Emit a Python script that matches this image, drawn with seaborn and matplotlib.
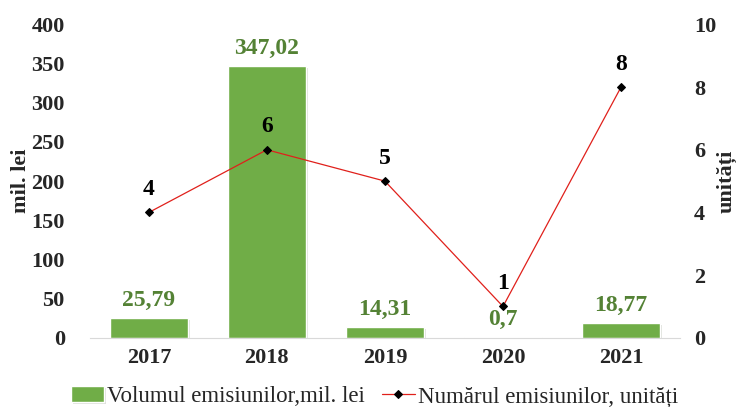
import numpy as np
import pandas as pd
import seaborn as sns
import matplotlib.pyplot as plt
import matplotlib.patheffects as pe

years = ['2017', '2018', '2019', '2020', '2021']
volum = [25.79, 347.02, 14.31, 0.7, 18.77]
numar = [4, 6, 5, 1, 8]
volum_labels = ['25,79', '347,02', '14,31', '0,7', '18,77']

sns.set_style('white')
plt.rcParams['font.family'] = ['Liberation Serif', 'DejaVu Serif']

green = '#70AD47'
df = pd.DataFrame({'an': years, 'volum': volum, 'numar': numar})

fig, ax = plt.subplots(figsize=(7.36, 4.07), dpi=100)
fig.subplots_adjust(left=0.122, right=0.924, top=0.94, bottom=0.17)

sns.barplot(data=df, x='an', y='volum', color=green, width=0.66, saturation=1,
            ax=ax, label='Volumul emisiunilor,mil. lei')
for p in ax.patches:
    p.set_path_effects([pe.SimplePatchShadow(offset=(1.5, -1.5), alpha=0.15), pe.Normal()])
ax.set_ylim(0, 400)
ax.set_yticks(range(0, 401, 50))
ax.set_xlabel('')
ax.set_ylabel('mil. lei', fontsize=16, fontweight='bold', labelpad=0)
for i, (v, t) in enumerate(zip(volum, volum_labels)):
    ax.annotate(t, (i, v), xytext=(0, 5), textcoords='offset points', ha='center',
                va='bottom', color='#548235', fontsize=17, fontweight='bold')

ax2 = ax.twinx()
sns.lineplot(x=np.arange(len(years)), y=df['numar'], ax=ax2, color='#E0201B', lw=0.9,
             marker='D', markersize=4, markerfacecolor='black', markeredgecolor='black',
             label='Numărul emisiunilor, unități', legend=False)
ax2.set_ylim(0, 10)
ax2.set_yticks(range(0, 11, 2))
ax2.set_ylabel('unități', fontsize=16, fontweight='bold', labelpad=0)
for i, n in enumerate(numar):
    ax2.annotate(str(n), (i, n), xytext=(0, 9), textcoords='offset points', ha='center',
                 va='bottom', color='black', fontsize=17, fontweight='bold')

for a in (ax, ax2):
    for s in a.spines.values():
        s.set_visible(False)
    a.tick_params(length=0, labelsize=16)
    for lab in a.get_xticklabels() + a.get_yticklabels():
        lab.set_fontweight('bold')
ax.spines['bottom'].set_visible(True)
ax.spines['bottom'].set_color('#D9D9D9')
ax.tick_params(axis='y', pad=18)
ax.tick_params(axis='x', pad=7)
ax2.tick_params(axis='y', pad=10)
ax.set_xlim(-0.5, 4.5)

h1, l1 = ax.get_legend_handles_labels()
h2, l2 = ax2.get_legend_handles_labels()
ax.legend(h1 + h2, l1 + l2, loc='lower center', bbox_to_anchor=(0.482, -0.25), ncol=2,
          frameon=False, fontsize=16.5, handlelength=1.45, handletextpad=0.13,
          columnspacing=0.75, borderaxespad=0)

fig.savefig('out.png', dpi=100)
